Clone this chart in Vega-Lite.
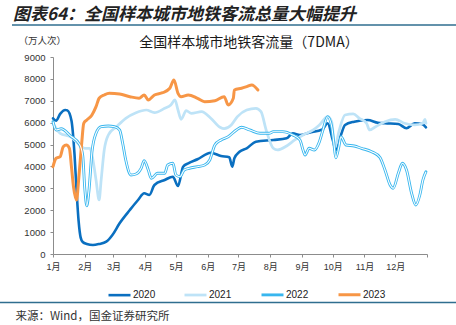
{
  "$schema": "https://vega.github.io/schema/vega-lite/v6.json",
  "autosize": {"type": "none"},
  "width": 374,
  "height": 197,
  "padding": {"left": 53, "top": 57, "right": 29, "bottom": 71},
  "background": "white",
  "config": {"view": {"stroke": null}, "font": "Liberation Sans, Noto Sans CJK SC"},
  "datasets": {
    "metro": [
      {"date": "2021-01-01", "year": "2020", "value": 6200},
      {"date": "2021-01-04", "year": "2020", "value": 6090},
      {"date": "2021-01-08", "year": "2020", "value": 6400},
      {"date": "2021-01-13", "year": "2020", "value": 6580},
      {"date": "2021-01-15", "year": "2020", "value": 6560},
      {"date": "2021-01-19", "year": "2020", "value": 6100},
      {"date": "2021-01-22", "year": "2020", "value": 4550},
      {"date": "2021-01-24", "year": "2020", "value": 2900},
      {"date": "2021-01-26", "year": "2020", "value": 1500},
      {"date": "2021-01-28", "year": "2020", "value": 750},
      {"date": "2021-01-30", "year": "2020", "value": 550},
      {"date": "2021-02-03", "year": "2020", "value": 457},
      {"date": "2021-02-09", "year": "2020", "value": 411},
      {"date": "2021-02-15", "year": "2020", "value": 457},
      {"date": "2021-02-22", "year": "2020", "value": 562},
      {"date": "2021-02-28", "year": "2020", "value": 868},
      {"date": "2021-03-07", "year": "2020", "value": 1403},
      {"date": "2021-03-17", "year": "2020", "value": 2010},
      {"date": "2021-03-25", "year": "2020", "value": 2467},
      {"date": "2021-03-31", "year": "2020", "value": 2773},
      {"date": "2021-04-05", "year": "2020", "value": 2696},
      {"date": "2021-04-10", "year": "2020", "value": 3153},
      {"date": "2021-04-20", "year": "2020", "value": 3381},
      {"date": "2021-04-28", "year": "2020", "value": 3532},
      {"date": "2021-05-03", "year": "2020", "value": 3107},
      {"date": "2021-05-08", "year": "2020", "value": 3989},
      {"date": "2021-05-13", "year": "2020", "value": 4144},
      {"date": "2021-05-22", "year": "2020", "value": 4327},
      {"date": "2021-06-04", "year": "2020", "value": 4628},
      {"date": "2021-06-14", "year": "2020", "value": 4478},
      {"date": "2021-06-22", "year": "2020", "value": 4418},
      {"date": "2021-06-25", "year": "2020", "value": 3989},
      {"date": "2021-06-27", "year": "2020", "value": 4373},
      {"date": "2021-07-02", "year": "2020", "value": 4674},
      {"date": "2021-07-09", "year": "2020", "value": 4829},
      {"date": "2021-07-18", "year": "2020", "value": 5131},
      {"date": "2021-08-04", "year": "2020", "value": 5209},
      {"date": "2021-08-17", "year": "2020", "value": 5286},
      {"date": "2021-08-23", "year": "2020", "value": 5515},
      {"date": "2021-08-30", "year": "2020", "value": 5437},
      {"date": "2021-09-08", "year": "2020", "value": 5542},
      {"date": "2021-09-21", "year": "2020", "value": 5697},
      {"date": "2021-09-26", "year": "2020", "value": 5972},
      {"date": "2021-10-01", "year": "2020", "value": 5209},
      {"date": "2021-10-04", "year": "2020", "value": 4750},
      {"date": "2021-10-09", "year": "2020", "value": 5437},
      {"date": "2021-10-13", "year": "2020", "value": 5894},
      {"date": "2021-10-22", "year": "2020", "value": 6045},
      {"date": "2021-11-04", "year": "2020", "value": 6122},
      {"date": "2021-11-14", "year": "2020", "value": 5999},
      {"date": "2021-11-21", "year": "2020", "value": 5972},
      {"date": "2021-12-04", "year": "2020", "value": 5940},
      {"date": "2021-12-12", "year": "2020", "value": 5743},
      {"date": "2021-12-20", "year": "2020", "value": 5972},
      {"date": "2021-12-27", "year": "2020", "value": 5940},
      {"date": "2021-12-31", "year": "2020", "value": 5789},

      {"date": "2021-01-01", "year": "2021", "value": 5972},
      {"date": "2021-01-08", "year": "2021", "value": 5515},
      {"date": "2021-01-18", "year": "2021", "value": 5359},
      {"date": "2021-01-27", "year": "2021", "value": 4980},
      {"date": "2021-02-01", "year": "2021", "value": 4829},
      {"date": "2021-02-06", "year": "2021", "value": 4829},
      {"date": "2021-02-09", "year": "2021", "value": 4295},
      {"date": "2021-02-12", "year": "2021", "value": 3381},
      {"date": "2021-02-15", "year": "2021", "value": 2467},
      {"date": "2021-02-17", "year": "2021", "value": 3381},
      {"date": "2021-02-20", "year": "2021", "value": 4752},
      {"date": "2021-02-24", "year": "2021", "value": 5437},
      {"date": "2021-03-04", "year": "2021", "value": 5816},
      {"date": "2021-03-13", "year": "2021", "value": 6200},
      {"date": "2021-03-23", "year": "2021", "value": 6456},
      {"date": "2021-04-02", "year": "2021", "value": 6579},
      {"date": "2021-04-10", "year": "2021", "value": 6456},
      {"date": "2021-04-20", "year": "2021", "value": 6657},
      {"date": "2021-04-26", "year": "2021", "value": 6808},
      {"date": "2021-04-30", "year": "2021", "value": 7036},
      {"date": "2021-05-03", "year": "2021", "value": 6579},
      {"date": "2021-05-06", "year": "2021", "value": 6154},
      {"date": "2021-05-11", "year": "2021", "value": 6547},
      {"date": "2021-05-16", "year": "2021", "value": 6429},
      {"date": "2021-05-26", "year": "2021", "value": 6502},
      {"date": "2021-06-04", "year": "2021", "value": 6200},
      {"date": "2021-06-13", "year": "2021", "value": 5789},
      {"date": "2021-06-17", "year": "2021", "value": 5725},
      {"date": "2021-06-24", "year": "2021", "value": 5894},
      {"date": "2021-06-30", "year": "2021", "value": 6273},
      {"date": "2021-07-09", "year": "2021", "value": 6579},
      {"date": "2021-07-18", "year": "2021", "value": 6657},
      {"date": "2021-07-23", "year": "2021", "value": 6502},
      {"date": "2021-07-28", "year": "2021", "value": 5666},
      {"date": "2021-08-04", "year": "2021", "value": 4829},
      {"date": "2021-08-08", "year": "2021", "value": 4752},
      {"date": "2021-08-17", "year": "2021", "value": 4935},
      {"date": "2021-08-25", "year": "2021", "value": 5209},
      {"date": "2021-09-02", "year": "2021", "value": 5437},
      {"date": "2021-09-12", "year": "2021", "value": 5666},
      {"date": "2021-09-18", "year": "2021", "value": 5894},
      {"date": "2021-09-26", "year": "2021", "value": 6273},
      {"date": "2021-09-30", "year": "2021", "value": 6045},
      {"date": "2021-10-03", "year": "2021", "value": 4850},
      {"date": "2021-10-07", "year": "2021", "value": 5588},
      {"date": "2021-10-13", "year": "2021", "value": 6351},
      {"date": "2021-10-21", "year": "2021", "value": 6397},
      {"date": "2021-10-27", "year": "2021", "value": 6200},
      {"date": "2021-11-03", "year": "2021", "value": 5972},
      {"date": "2021-11-06", "year": "2021", "value": 5666},
      {"date": "2021-11-11", "year": "2021", "value": 5789},
      {"date": "2021-11-21", "year": "2021", "value": 6045},
      {"date": "2021-12-01", "year": "2021", "value": 6154},
      {"date": "2021-12-10", "year": "2021", "value": 5972},
      {"date": "2021-12-20", "year": "2021", "value": 5894},
      {"date": "2021-12-28", "year": "2021", "value": 5972},
      {"date": "2021-12-30", "year": "2021", "value": 6154},
      {"date": "2021-12-31", "year": "2021", "value": 5972},

      {"date": "2021-01-01", "year": "2022", "value": 6045},
      {"date": "2021-01-04", "year": "2022", "value": 5666},
      {"date": "2021-01-09", "year": "2022", "value": 5720},
      {"date": "2021-01-18", "year": "2022", "value": 5400},
      {"date": "2021-01-27", "year": "2022", "value": 5000},
      {"date": "2021-01-30", "year": "2022", "value": 4500},
      {"date": "2021-02-01", "year": "2022", "value": 3000},
      {"date": "2021-02-03", "year": "2022", "value": 2200},
      {"date": "2021-02-05", "year": "2022", "value": 2850},
      {"date": "2021-02-08", "year": "2022", "value": 4650},
      {"date": "2021-02-12", "year": "2022", "value": 5515},
      {"date": "2021-02-17", "year": "2022", "value": 5816},
      {"date": "2021-02-24", "year": "2022", "value": 5848},
      {"date": "2021-03-02", "year": "2022", "value": 5816},
      {"date": "2021-03-07", "year": "2022", "value": 5666},
      {"date": "2021-03-10", "year": "2022", "value": 5058},
      {"date": "2021-03-13", "year": "2022", "value": 4295},
      {"date": "2021-03-18", "year": "2022", "value": 3610},
      {"date": "2021-03-23", "year": "2022", "value": 3655},
      {"date": "2021-03-28", "year": "2022", "value": 3916},
      {"date": "2021-03-31", "year": "2022", "value": 4263},
      {"date": "2021-04-04", "year": "2022", "value": 3838},
      {"date": "2021-04-07", "year": "2022", "value": 3459},
      {"date": "2021-04-13", "year": "2022", "value": 3687},
      {"date": "2021-04-20", "year": "2022", "value": 3687},
      {"date": "2021-04-23", "year": "2022", "value": 4066},
      {"date": "2021-04-28", "year": "2022", "value": 4144},
      {"date": "2021-05-01", "year": "2022", "value": 3610},
      {"date": "2021-05-05", "year": "2022", "value": 3532},
      {"date": "2021-05-09", "year": "2022", "value": 3838},
      {"date": "2021-05-14", "year": "2022", "value": 3916},
      {"date": "2021-05-22", "year": "2022", "value": 3989},
      {"date": "2021-05-29", "year": "2022", "value": 4066},
      {"date": "2021-06-03", "year": "2022", "value": 4295},
      {"date": "2021-06-08", "year": "2022", "value": 4980},
      {"date": "2021-06-14", "year": "2022", "value": 5209},
      {"date": "2021-06-21", "year": "2022", "value": 5359},
      {"date": "2021-06-29", "year": "2022", "value": 5666},
      {"date": "2021-07-04", "year": "2022", "value": 5789},
      {"date": "2021-07-12", "year": "2022", "value": 5666},
      {"date": "2021-07-22", "year": "2022", "value": 5515},
      {"date": "2021-07-31", "year": "2022", "value": 5515},
      {"date": "2021-08-04", "year": "2022", "value": 5588},
      {"date": "2021-08-13", "year": "2022", "value": 5588},
      {"date": "2021-08-23", "year": "2022", "value": 5437},
      {"date": "2021-08-30", "year": "2022", "value": 5209},
      {"date": "2021-09-02", "year": "2022", "value": 4752},
      {"date": "2021-09-04", "year": "2022", "value": 4523},
      {"date": "2021-09-08", "year": "2022", "value": 4829},
      {"date": "2021-09-13", "year": "2022", "value": 4752},
      {"date": "2021-09-18", "year": "2022", "value": 5131},
      {"date": "2021-09-21", "year": "2022", "value": 5588},
      {"date": "2021-09-26", "year": "2022", "value": 6273},
      {"date": "2021-09-30", "year": "2022", "value": 5816},
      {"date": "2021-10-02", "year": "2022", "value": 5100},
      {"date": "2021-10-04", "year": "2022", "value": 4390},
      {"date": "2021-10-07", "year": "2022", "value": 4902},
      {"date": "2021-10-09", "year": "2022", "value": 5359},
      {"date": "2021-10-14", "year": "2022", "value": 4980},
      {"date": "2021-10-22", "year": "2022", "value": 4935},
      {"date": "2021-10-29", "year": "2022", "value": 4829},
      {"date": "2021-11-08", "year": "2022", "value": 4674},
      {"date": "2021-11-16", "year": "2022", "value": 4418},
      {"date": "2021-11-21", "year": "2022", "value": 3838},
      {"date": "2021-11-26", "year": "2022", "value": 3153},
      {"date": "2021-11-29", "year": "2022", "value": 3002},
      {"date": "2021-12-04", "year": "2022", "value": 3687},
      {"date": "2021-12-08", "year": "2022", "value": 4144},
      {"date": "2021-12-12", "year": "2022", "value": 3838},
      {"date": "2021-12-17", "year": "2022", "value": 2773},
      {"date": "2021-12-21", "year": "2022", "value": 2239},
      {"date": "2021-12-25", "year": "2022", "value": 2696},
      {"date": "2021-12-28", "year": "2022", "value": 3381},
      {"date": "2021-12-31", "year": "2022", "value": 3760},

      {"date": "2021-01-01", "year": "2023", "value": 3989},
      {"date": "2021-01-04", "year": "2023", "value": 4373},
      {"date": "2021-01-08", "year": "2023", "value": 4446},
      {"date": "2021-01-11", "year": "2023", "value": 4902},
      {"date": "2021-01-14", "year": "2023", "value": 4980},
      {"date": "2021-01-17", "year": "2023", "value": 4829},
      {"date": "2021-01-19", "year": "2023", "value": 3989},
      {"date": "2021-01-21", "year": "2023", "value": 3075},
      {"date": "2021-01-24", "year": "2023", "value": 2467},
      {"date": "2021-01-26", "year": "2023", "value": 3381},
      {"date": "2021-01-29", "year": "2023", "value": 5058},
      {"date": "2021-01-31", "year": "2023", "value": 5972},
      {"date": "2021-02-03", "year": "2023", "value": 6122},
      {"date": "2021-02-08", "year": "2023", "value": 6351},
      {"date": "2021-02-12", "year": "2023", "value": 6730},
      {"date": "2021-02-15", "year": "2023", "value": 7114},
      {"date": "2021-02-20", "year": "2023", "value": 7265},
      {"date": "2021-02-25", "year": "2023", "value": 7342},
      {"date": "2021-03-07", "year": "2023", "value": 7310},
      {"date": "2021-03-17", "year": "2023", "value": 7187},
      {"date": "2021-03-26", "year": "2023", "value": 7114},
      {"date": "2021-03-31", "year": "2023", "value": 7265},
      {"date": "2021-04-04", "year": "2023", "value": 7036},
      {"date": "2021-04-10", "year": "2023", "value": 7265},
      {"date": "2021-04-18", "year": "2023", "value": 7370},
      {"date": "2021-04-25", "year": "2023", "value": 7571},
      {"date": "2021-04-29", "year": "2023", "value": 7950},
      {"date": "2021-05-03", "year": "2023", "value": 7342},
      {"date": "2021-05-06", "year": "2023", "value": 7187},
      {"date": "2021-05-13", "year": "2023", "value": 7265},
      {"date": "2021-05-22", "year": "2023", "value": 7114},
      {"date": "2021-05-29", "year": "2023", "value": 6959},
      {"date": "2021-06-08", "year": "2023", "value": 7004},
      {"date": "2021-06-17", "year": "2023", "value": 7187},
      {"date": "2021-06-21", "year": "2023", "value": 6808},
      {"date": "2021-06-26", "year": "2023", "value": 7114},
      {"date": "2021-06-27", "year": "2023", "value": 7493},
      {"date": "2021-07-04", "year": "2023", "value": 7571},
      {"date": "2021-07-09", "year": "2023", "value": 7644},
      {"date": "2021-07-14", "year": "2023", "value": 7722},
      {"date": "2021-07-20", "year": "2023", "value": 7493}
    ]
  },
  "encoding": {
    "x": {
      "field": "date",
      "type": "temporal",
      "scale": {"type": "utc", "domain": [{"year": 2021, "month": 1, "date": 1, "utc": true}, {"year": 2022, "month": 1, "date": 1, "utc": true}]},
      "axis": {
        "values": [
          {"year": 2021, "month": 1, "date": 1, "utc": true},
          {"year": 2021, "month": 2, "date": 1, "utc": true},
          {"year": 2021, "month": 3, "date": 1, "utc": true},
          {"year": 2021, "month": 4, "date": 1, "utc": true},
          {"year": 2021, "month": 5, "date": 1, "utc": true},
          {"year": 2021, "month": 6, "date": 1, "utc": true},
          {"year": 2021, "month": 7, "date": 1, "utc": true},
          {"year": 2021, "month": 8, "date": 1, "utc": true},
          {"year": 2021, "month": 9, "date": 1, "utc": true},
          {"year": 2021, "month": 10, "date": 1, "utc": true},
          {"year": 2021, "month": 11, "date": 1, "utc": true},
          {"year": 2021, "month": 12, "date": 1, "utc": true},
          {"year": 2022, "month": 1, "date": 1, "utc": true}
        ],
        "labelExpr": "utcyear(datum.value) > 2021 ? '' : (utcmonth(datum.value) + 1) + '月'",
        "grid": false,
        "domainColor": "#8c8c8c",
        "tickColor": "#8c8c8c",
        "tickSize": 3,
        "labelPadding": 5,
        "labelFontSize": 9,
        "labelColor": "#333333",
        "labelFlush": false,
        "labelOverlap": false,
        "title": "来源：Wind，国金证券研究所",
        "titleFont": "Noto Sans CJK SC",
        "titleFontSize": 11.5,
        "titleFontWeight": "normal",
        "titleColor": "#333333",
        "titleAnchor": "start",
        "titleAlign": "left",
        "titleBaseline": "middle",
        "titleX": -38,
        "titleY": 62
      }
    },
    "y": {
      "field": "value",
      "type": "quantitative",
      "scale": {"domain": [0, 9000], "nice": false},
      "axis": {
        "values": [0, 1000, 2000, 3000, 4000, 5000, 6000, 7000, 8000, 9000],
        "format": "d",
        "grid": false,
        "domainColor": "#8c8c8c",
        "tickColor": "#8c8c8c",
        "tickSize": 3,
        "labelPadding": 5,
        "labelFontSize": 9.5,
        "labelColor": "#333333",
        "labelOverlap": false,
        "title": "（万人次）",
        "titleFont": "Noto Sans CJK SC",
        "titleFontSize": 9.5,
        "titleFontWeight": "normal",
        "titleColor": "#333333",
        "titleAngle": 0,
        "titleAlign": "left",
        "titleBaseline": "middle",
        "titleX": -35,
        "titleY": -17
      }
    }
  },
  "layer": [
    {
      "data": {"name": "metro"},
      "mark": {"type": "line", "interpolate": "monotone", "strokeCap": "round", "strokeJoin": "round"},
      "encoding": {
        "color": {
          "field": "year",
          "type": "nominal",
          "scale": {"domain": ["2020", "2021", "2022", "2023"], "range": ["#0a6fc0", "#bee3f7", "#38b6ee", "#f79646"]},
          "legend": {
            "title": null,
            "orient": "none",
            "direction": "horizontal",
            "legendX": 54,
            "legendY": 225,
            "symbolType": "stroke",
            "symbolSize": 484,
            "symbolStrokeWidth": 3,
            "labelFontSize": 10,
            "labelColor": "#222222",
            "labelOffset": 1,
            "columnPadding": 23
          }
        },
        "strokeWidth": {
          "field": "year",
          "type": "nominal",
          "scale": {"domain": ["2020", "2021", "2022", "2023"], "range": [2.6, 3, 3.4, 2.6]},
          "legend": null
        },
        "order": {"field": "date", "type": "temporal"}
      }
    },
    {
      "data": {"name": "metro"},
      "transform": [{"filter": "datum.year === '2022'"}],
      "mark": {"type": "line", "interpolate": "monotone", "color": "white", "strokeWidth": 1.1}
    },
    {
      "data": {"values": [{"t": "图表64：全国样本城市地铁客流总量大幅提升"}]},
      "mark": {"type": "text", "align": "left", "baseline": "middle", "font": "Noto Sans CJK SC", "fontSize": 17, "fontWeight": "bold", "fontStyle": "italic", "color": "#222222"},
      "encoding": {"x": {"value": -40}, "y": {"value": -42}, "text": {"field": "t"}}
    },
    {
      "data": {"values": [{"t": "全国样本城市地铁客流量（7DMA）"}]},
      "mark": {"type": "text", "align": "center", "baseline": "middle", "font": "Noto Sans CJK SC", "fontSize": 14, "color": "#1a1a1a"},
      "encoding": {"x": {"value": 196}, "y": {"value": -14}, "text": {"field": "t"}}
    },
    {
      "data": {"values": [{"a": 1}]},
      "mark": {"type": "rule", "color": "#2f6e8f", "strokeWidth": 1.5},
      "encoding": {"x": {"value": -41}, "x2": {"value": 403}, "y": {"value": -32}}
    },
    {
      "data": {"values": [{"a": 1}]},
      "mark": {"type": "rule", "color": "#2f6e8f", "strokeWidth": 1.5},
      "encoding": {"x": {"value": -53}, "x2": {"value": 403}, "y": {"value": 245.5}}
    }
  ]
}
